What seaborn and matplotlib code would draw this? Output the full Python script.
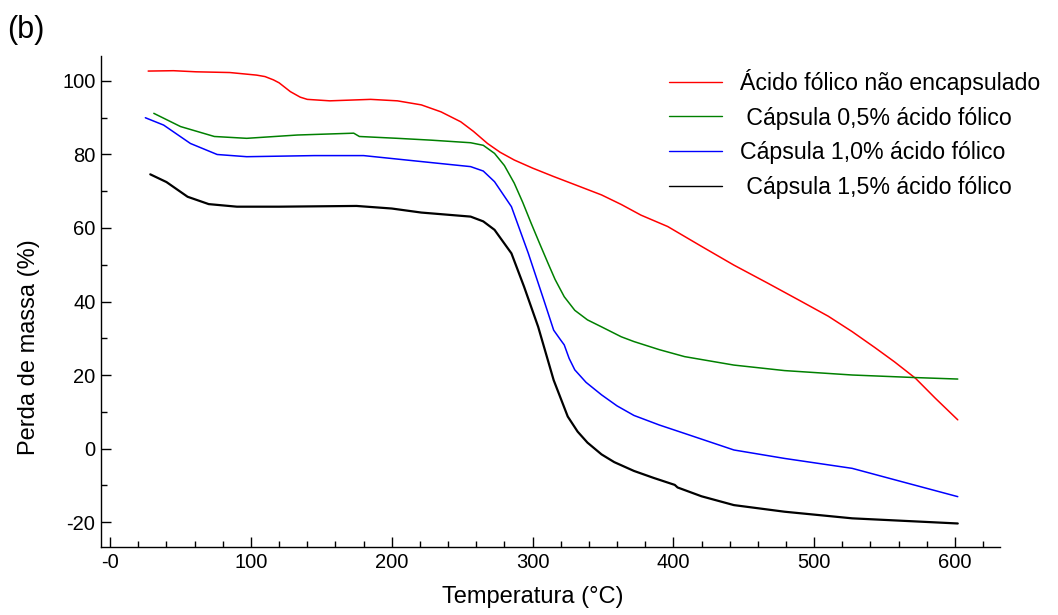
import numpy as np
import pandas as pd
import matplotlib
matplotlib.use("Agg")
import matplotlib.pyplot as plt
from matplotlib.ticker import MultipleLocator, FixedLocator, FixedFormatter
import seaborn as sns

# ---------------- data ----------------
red_t = [27, 45, 61, 85, 104, 110, 116, 120, 128, 135, 140, 156, 185, 204, 221, 235, 249, 258, 268, 277, 287, 300, 315, 330, 349, 363, 377, 396, 420, 443, 467, 491, 510, 527, 543, 557, 572, 586, 602]
red_v = [102.7, 102.8, 102.5, 102.3, 101.6, 101.2, 100.3, 99.5, 97.1, 95.6, 95.0, 94.6, 95.0, 94.6, 93.5, 91.6, 88.9, 86.3, 83.0, 80.6, 78.5, 76.3, 74.0, 71.8, 69.0, 66.4, 63.5, 60.4, 55.0, 49.9, 45.0, 40.0, 36.0, 31.8, 27.5, 23.6, 19.1, 13.7, 7.8]

green_t = [31, 50, 74, 97, 133, 173, 177, 204, 228, 256, 265, 273, 280, 287, 293, 299, 305, 311, 316, 322.5, 330, 339, 349, 363, 372, 390, 408, 443, 479, 527, 572, 602]
green_v = [91.2, 87.6, 84.9, 84.4, 85.3, 85.8, 84.9, 84.4, 83.9, 83.2, 82.5, 80.3, 77.0, 72.2, 67.0, 61.3, 55.8, 50.4, 46.0, 41.3, 37.6, 35.0, 33.1, 30.4, 29.1, 26.9, 25.0, 22.7, 21.2, 20.0, 19.3, 18.9]

blue_t = [25, 38, 57, 76, 97, 145, 180, 228, 256, 265, 273, 285, 297, 308, 315, 320, 322.5, 326, 330, 338, 349, 360, 372, 390, 408, 443, 479, 527, 562, 602]
blue_v = [90.0, 88.0, 83.0, 80.0, 79.4, 79.7, 79.7, 77.8, 76.7, 75.5, 72.6, 65.8, 53.1, 40.4, 32.2, 29.5, 28.2, 24.5, 21.4, 18.0, 14.6, 11.6, 9.0, 6.4, 4.1, -0.4, -2.7, -5.4, -9.0, -13.1]

black_t = [28.5, 40, 55, 70, 90, 120, 175, 200, 221, 256, 265, 273, 285, 294, 304, 315, 325, 332, 339, 349, 358, 372, 386, 401, 403, 420, 443, 479, 527, 602]
black_v = [74.6, 72.5, 68.5, 66.5, 65.8, 65.8, 66.0, 65.3, 64.2, 63.1, 61.8, 59.5, 53.1, 44.0, 33.1, 18.6, 8.7, 4.6, 1.6, -1.6, -3.7, -6.1, -8.0, -9.9, -10.6, -13.0, -15.4, -17.2, -19.0, -20.4]

labels = ["Ácido fólico não encapsulado", " Cápsula 0,5% ácido fólico",
          "Cápsula 1,0% ácido fólico", " Cápsula 1,5% ácido fólico"]
x_ticks = [0, 100, 200, 300, 400, 500, 600]
x_tick_labels = ["-0", "100", "200", "300", "400", "500", "600"]
y_ticks = [-20, 0, 20, 40, 60, 80, 100]
y_tick_labels = ["-20", "0", "20", "40", "60", "80", "100"]

series = [(red_t, red_v, "#ff0000", 1.1),
          (green_t, green_v, "#008000", 1.1),
          (blue_t, blue_v, "#0000ff", 1.1),
          (black_t, black_v, "#000000", 1.6)]

# ---------------- plot ----------------
sns.set_style("ticks")
plt.rcParams['font.family'] = ['Liberation Sans', 'DejaVu Sans']
plt.rcParams['text.color'] = 'black'
plt.rcParams['axes.labelcolor'] = 'black'

fig = plt.figure(figsize=(10.58, 6.15), dpi=100)
ax = fig.add_axes([101/1058, 68/615, 899/1058, 491/615])

for (t, v, c, lw), lab in zip(series, labels):
    df = pd.DataFrame({"T": t, "m": v})
    sns.lineplot(data=df, x="T", y="m", ax=ax, color=c, linewidth=lw,
                 sort=False, estimator=None, label=lab)

ax.set_xlim(-6.5, 632)
ax.set_ylim(-26.8, 106.8)
ax.xaxis.set_major_locator(FixedLocator(x_ticks))
ax.xaxis.set_major_formatter(FixedFormatter(x_tick_labels))
ax.xaxis.set_minor_locator(MultipleLocator(20))
ax.yaxis.set_major_locator(FixedLocator(y_ticks))
ax.yaxis.set_major_formatter(FixedFormatter(y_tick_labels))
ax.yaxis.set_minor_locator(MultipleLocator(10))
ax.tick_params(axis="both", which="major", direction="in", length=7, width=1,
               labelsize=14.5, colors="black", pad=4)
ax.tick_params(axis="both", which="minor", direction="in", length=4, width=1,
               colors="black")
for s in ["top", "right"]:
    ax.spines[s].set_visible(False)
for s in ["left", "bottom"]:
    ax.spines[s].set_linewidth(1.0)
    ax.spines[s].set_color("black")

ax.set_xlabel("Temperatura (°C)", fontsize=17)
ax.set_ylabel("Perda de massa (%)", fontsize=17)
ax.xaxis.set_label_coords((533 - 101) / 899, (547 - 586) / 491)
ax.yaxis.set_label_coords((40 - 101) / 899, (547 - 347) / 491)

leg = ax.legend(loc="upper left", bbox_to_anchor=(669/1058, 1 - 69/615),
                bbox_transform=fig.transFigure, frameon=False, fontsize=16.7,
                handlelength=2.3, handletextpad=0.75, labelspacing=0.5,
                borderpad=0, borderaxespad=0)
for line in leg.get_lines():
    line.set_linewidth(1.0)

fig.text(7/1058, 1 - 30/615, "(b)", fontsize=22, va="center", ha="left")

fig.savefig("out.png", dpi=100)
